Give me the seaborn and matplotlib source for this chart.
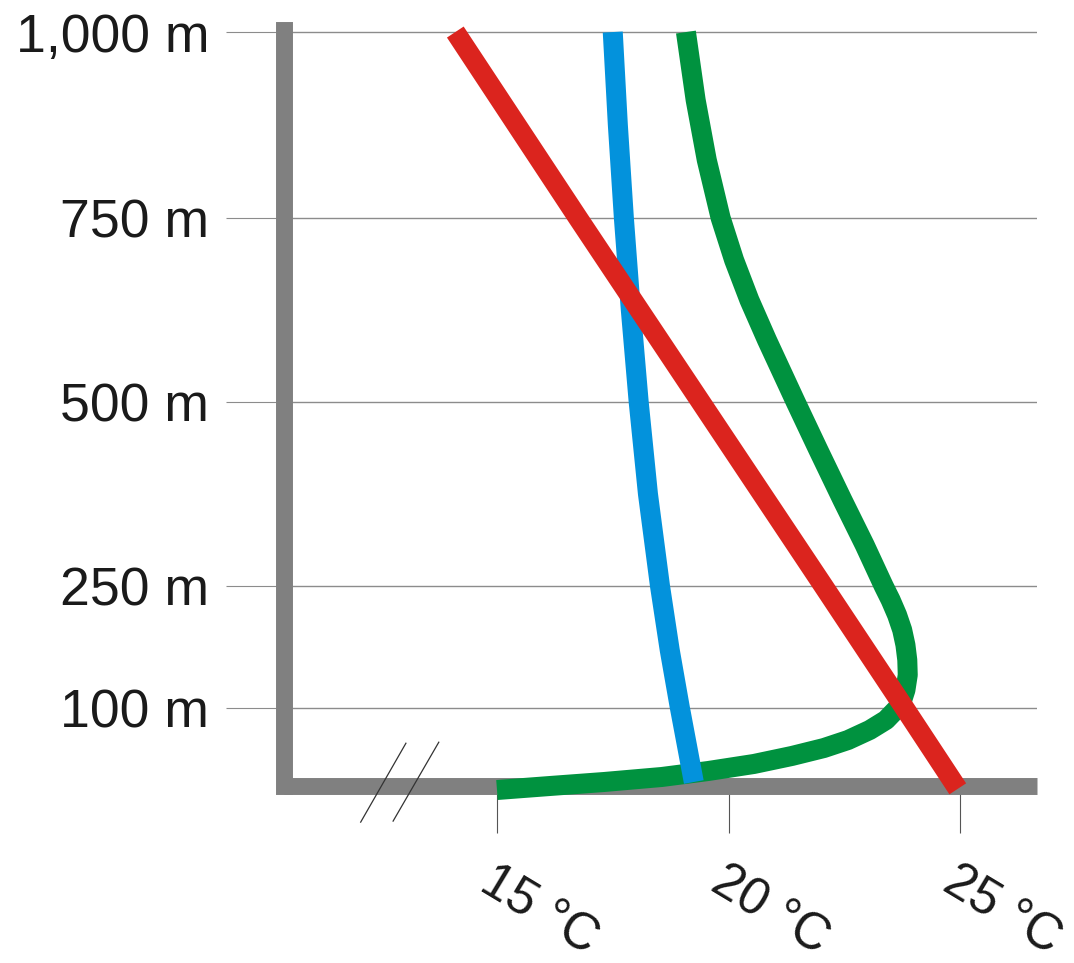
import numpy as np
import pandas as pd
import matplotlib
matplotlib.use("Agg")
import matplotlib.pyplot as plt
import seaborn as sns
from matplotlib.transforms import ScaledTranslation

# ---------------- data ----------------
height_ticks = [100, 250, 500, 750, 1000]
height_labels = ["100 m", "250 m", "500 m", "750 m", "1,000 m"]
temp_ticks = [15, 20, 25]
temp_labels = ["15 °C", "20 °C", "25 °C"]

red_height = [-3, 100, 250, 500, 750, 1000]
red_temp = [24.95, 23.8, 22.05, 19.4, 16.75, 14.1]

blue_height = [5.7, 52.9, 100, 171.3, 250, 375, 500, 625, 750, 875, 1000]
blue_temp = [19.25, 19.10, 18.95, 18.73, 18.52, 18.26, 18.06, 17.89, 17.74, 17.61, 17.50]

green_height = [-4.5, 0.6, 5.7, 12.1, 19.7, 28.7, 38.9, 49.0, 59.2, 72.0, 84.7, 100,
                109.8, 122.1, 140.6, 159.0, 177.5, 195.9, 214.3, 232.8, 250,
                305.7, 366.8, 434.8, 500, 529.9, 584.2, 638.6, 692.9, 750,
                828.0, 908.6, 1000]
green_temp = [15.0, 16.14, 17.31, 18.56, 19.56, 20.55, 21.37, 22.06, 22.58, 23.05, 23.40, 23.65,
              23.75, 23.82, 23.87, 23.86, 23.82, 23.75, 23.64, 23.50, 23.35,
              22.94, 22.46, 21.94, 21.45, 21.23, 20.83, 20.45, 20.12, 19.83,
              19.53, 19.29, 19.08]

# ---------------- non-uniform height axis (schematic) ----------------
scale_h = [-200, 0, 100, 250, 500, 750, 1000, 1250]
scale_p = [-157, 0, 78.5, 200.5, 384.5, 568.5, 754.5, 940.5]


def fwd(h):
    return np.interp(h, scale_h, scale_p)


def inv(p):
    return np.interp(p, scale_p, scale_h)


sns.set_theme(style="white")
plt.rcParams["font.family"] = ["Liberation Sans", "DejaVu Sans"]

DPI = 100
fig = plt.figure(figsize=(10.74, 9.63), dpi=DPI)
ax = fig.add_axes([0.2644, 0.1833, 0.7011, 0.7855])
ax.set_yscale("function", functions=(fwd, inv))

series = [
    ("green", green_temp, green_height, "#00923f", 3.0),
    ("blue", blue_temp, blue_height, "#0392dc", 3.1),
    ("red", red_temp, red_height, "#db241e", 3.2),
]
for name, t, h, col, z in series:
    df = pd.DataFrame({"temp": t, "height": h})
    sns.lineplot(data=df, x="temp", y="height", sort=False, estimator=None,
                 color=col, linewidth=14.4, ax=ax)
    ln = ax.lines[-1]
    ln.set_solid_capstyle("butt")
    ln.set_solid_joinstyle("round")
    ln.set_clip_on(False)
    ln.set_zorder(z)

ax.set_xlim(10.4, 26.66)
ax.set_ylim(0, 1002.7)
ax.set_xlabel("")
ax.set_ylabel("")

# grid
ax.set_axisbelow(True)
ax.yaxis.grid(True, color="#8c8c8c", linewidth=1.0)
ax.xaxis.grid(False)

# spines
for s in ["top", "right"]:
    ax.spines[s].set_visible(False)
for s in ["left", "bottom"]:
    ax.spines[s].set_color("#808080")
    ax.spines[s].set_linewidth(12.2)
    ax.spines[s].set_zorder(2.5)
ax.spines["left"].set_capstyle("projecting")
ax.spines["bottom"].set_capstyle("butt")

# ticks
ax.set_yticks(height_ticks, height_labels)
ax.yaxis.set_minor_locator(matplotlib.ticker.NullLocator())
ax.tick_params(axis="y", which="major", left=True, direction="out",
               length=41.8, width=0.8, color="#8c8c8c", pad=12,
               labelsize=38.5, labelcolor="#1a1a1a")
ax.tick_params(axis="x", which="major", bottom=True, direction="out",
               length=33.5, width=0.8, color="#555555", pad=40.5,
               labelsize=36.5, labelcolor="#1a1a1a")
ax.set_xticks(temp_ticks, temp_labels)
off = ScaledTranslation(-20 / DPI, 0, fig.dpi_scale_trans)
for lab in ax.get_xticklabels():
    lab.set_rotation(-31)
    lab.set_rotation_mode("anchor")
    lab.set_horizontalalignment("left")
    lab.set_verticalalignment("baseline")
    lab.set_transform(lab.get_transform() + off)

# axis-break marks (decoration)
for (x0, y0), (x1, y1) in [((13.04, 55.8), (12.05, -46.1)),
                           ((13.75, 57.1), (12.75, -44.8))]:
    ax.plot([x0, x1], [y0, y1], color="#333333", linewidth=0.9,
            clip_on=False, zorder=4, solid_capstyle="butt")

fig.savefig("out.png", dpi=DPI, facecolor="white")
